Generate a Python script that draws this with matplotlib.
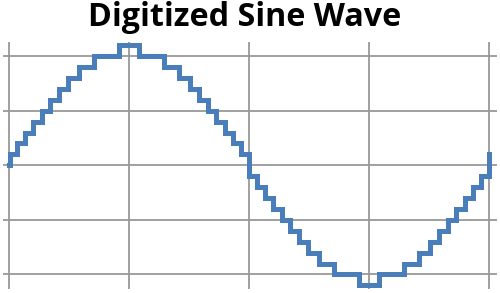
import matplotlib
matplotlib.use("Agg")
import matplotlib.pyplot as plt

# Step edges (degrees) and quantized levels
angles = [0, 0.8, 5.8, 12, 18.2, 24.5, 30.75, 37.7, 44.5, 52.7, 63.75, 82.7,
          97.3, 116.25, 127.3, 135.5, 142.3, 149.25, 155.5, 161.8, 168, 174.2,
          180, 185.8, 192, 198.2, 204.5, 210.75, 217.7, 224.5, 232.7, 243.75, 262.7,
          277.3, 296.25, 307.3, 315.5, 322.3, 329.25, 335.5, 341.8, 348, 354.2, 360]
levels = [0, 1, 2, 3, 4, 5, 6, 7, 8, 9, 10, 11,
          10, 9, 8, 7, 6, 5, 4, 3, 2, 1,
          -1, -2, -3, -4, -5, -6, -7, -8, -9, -10, -11,
          -10, -9, -8, -7, -6, -5, -4, -3, -2, -1, 1]

x_grid = [0, 90, 180, 270, 360]
y_grid = [-10, -5, 0, 5, 10]
title = "Digitized Sine Wave"

fig = plt.figure(figsize=(5.0, 2.93), dpi=100)
ax = fig.add_axes([3/500, 1 - 289/293, 494/500, (289 - 42)/293])

ax.step(angles, levels, where="post", color="#4A7EBB", lw=3.6,
        solid_joinstyle="miter", zorder=3)

ax.set_xlim(-4.5, 366.0)
ax.set_ylim(-11.33, 11.29)
ax.set_xticks(x_grid)
ax.set_yticks(y_grid)
ax.grid(True, color="#999999", lw=1.3)
ax.tick_params(length=0, labelbottom=False, labelleft=False)
for s in ax.spines.values():
    s.set_visible(False)

fig.text(245/500, 1 - 26/293, title, ha="center", va="baseline",
         fontsize=23.2, fontweight="bold", family=["Open Sans", "DejaVu Sans"])

fig.savefig("out.png", dpi=100)
